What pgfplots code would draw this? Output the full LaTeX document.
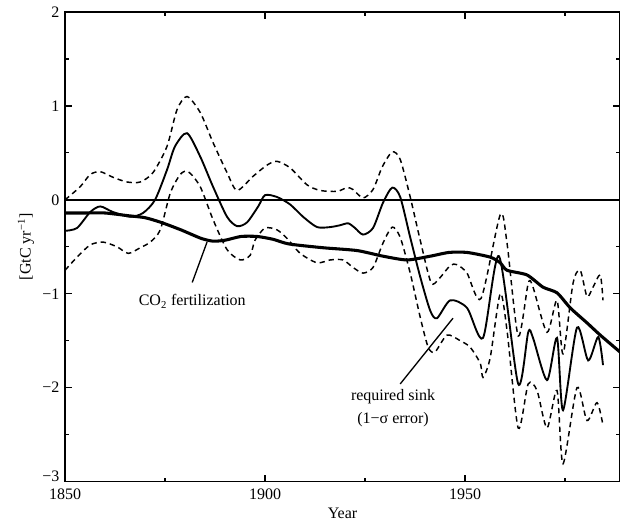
\documentclass[border=0pt]{standalone}
\usepackage{fontspec}
\setmainfont{Liberation Serif}
\usepackage{pgfplots}
\pgfplotsset{compat=1.18}

\begin{document}
\fontsize{12}{14}\selectfont
\begin{tikzpicture}
\begin{axis}[
    name=ax,
    scale only axis,
    width=416pt, height=352pt,
    xmin=1850, xmax=1988.75,
    ymin=-3, ymax=2,
    xtick={1850,1900,1950},
    xticklabels={1850,1900,1950},
    minor xtick={1875,1925,1975},
    ytick={-3,-2,-1,0,1,2},
    yticklabels={\raisebox{4pt}[\height][\depth]{−3},−2,−1,0,1,2},
    minor ytick={-2.5,-1.5,-0.5,0.5,1.5},
    xticklabel style={yshift=-1.5pt},
    axis line style={line width=1.1pt},
    major tick length=5pt, minor tick length=3pt,
    every tick/.style={black, line width=0.9pt},
    xlabel={Year},
    ylabel={[GtC yr\textsuperscript{−1}]},
    xlabel style={yshift=2pt},
    ylabel style={yshift=-2pt},
    clip=true,
]
% zero line
\addplot[black, line width=1.2pt] coordinates {(1850,0) (1988.75,0)};

% CO2 fertilization
\addplot[black, line width=2.3pt, smooth, tension=0.4] coordinates {
(1850,-0.14) (1855,-0.14) (1860,-0.14) (1866,-0.17) (1870,-0.19) (1874,-0.24)
(1879,-0.32) (1884,-0.41) (1887,-0.44) (1890,-0.43) (1894,-0.39) (1898,-0.39)
(1902,-0.42) (1906,-0.47) (1914.5,-0.51) (1923,-0.54) (1929.5,-0.60) (1935.5,-0.64)
(1941.3,-0.60) (1946,-0.56) (1950.5,-0.56) (1956.3,-0.61) (1958.8,-0.67) (1960.5,-0.75)
(1965.5,-0.80) (1969.5,-0.93) (1973,-0.99) (1976.3,-1.15) (1980.5,-1.31) (1983.8,-1.44)
(1988.75,-1.62)
};

% required sink
\addplot[black, line width=1.4pt, smooth, tension=0.45] coordinates {
(1850,-0.33) (1853,-0.30) (1856.3,-0.13) (1858.8,-0.07) (1862,-0.13) (1866.3,-0.18)
(1869.5,-0.14) (1872.5,0) (1875.5,0.32) (1877.5,0.57) (1880.5,0.71) (1883.8,0.46)
(1887,0.14) (1890.5,-0.18) (1893,-0.28) (1895.5,-0.24) (1898.3,-0.07) (1900,0.05)
(1903,0.03) (1906.3,-0.05) (1909.5,-0.18) (1913,-0.29) (1916.3,-0.29) (1918.8,-0.27)
(1920.8,-0.25) (1922.5,-0.30) (1924.5,-0.37) (1927,-0.30) (1929.5,-0.03) (1931.8,0.13)
(1933.8,0.03) (1936.3,-0.40) (1938.8,-0.82) (1941.3,-1.18) (1943,-1.26) (1946.3,-1.07)
(1950.5,-1.15) (1954.5,-1.47) (1958.5,-0.60) (1963.3,-1.96) (1965.8,-1.41) (1967,-1.47)
(1970.5,-1.92) (1973,-1.47) (1974.5,-2.24) (1978,-1.36) (1980.8,-1.71) (1983.3,-1.46)
(1984.5,-1.76)
};

% upper error bound
\addplot[black, line width=1.1pt, dash pattern=on 4pt off 3pt, smooth, tension=0.45] coordinates {
(1850,0.0) (1853.8,0.14) (1856.3,0.27) (1858.8,0.30) (1862,0.24) (1865.5,0.19)
(1868.8,0.19) (1872,0.29) (1875.5,0.57) (1878,0.96) (1880.5,1.10) (1883.8,0.93)
(1887,0.61) (1890.5,0.29) (1893,0.10) (1897,0.25) (1900.5,0.37) (1903,0.41)
(1906.3,0.34) (1910.5,0.16) (1913.8,0.10) (1918,0.09) (1920.5,0.13) (1922,0.11)
(1924.5,0.02) (1927,0.11) (1929.3,0.35) (1931.8,0.51) (1933.8,0.43) (1936.3,0.03)
(1938.8,-0.43) (1941.5,-0.88) (1943.5,-0.84) (1946.3,-0.70) (1948,-0.69) (1950.5,-0.78)
(1954,-1.05) (1958.8,-0.16) (1960.5,-0.46) (1963.3,-1.45) (1965.8,-0.89) (1967,-0.93)
(1970.5,-1.41) (1973,-1.07) (1974.5,-1.64) (1977,-0.89) (1978.8,-0.75) (1980.5,-1.03)
(1982,-0.93) (1983.8,-0.80) (1984.5,-1.07)
};

% lower error bound
\addplot[black, line width=1.1pt, dash pattern=on 4pt off 3pt, smooth, tension=0.45] coordinates {
(1850,-0.75) (1853,-0.61) (1856.3,-0.48) (1859.5,-0.45) (1863,-0.50) (1865.8,-0.57)
(1868.8,-0.51) (1871.3,-0.45) (1873.8,-0.32) (1876.3,0.07) (1878.8,0.27) (1880.8,0.30)
(1883.8,0.14) (1887,-0.21) (1890.5,-0.53) (1893.8,-0.64) (1896.3,-0.59) (1897.5,-0.43)
(1900,-0.30) (1903,-0.32) (1905.5,-0.41) (1908.8,-0.57) (1913,-0.67) (1916.3,-0.64)
(1919.5,-0.64) (1922,-0.72) (1924.5,-0.78) (1927,-0.72) (1929.5,-0.46) (1931.8,-0.29)
(1933.8,-0.40) (1936.3,-0.78) (1938.8,-1.25) (1940.8,-1.57) (1942.5,-1.62) (1945.5,-1.44)
(1948.8,-1.50) (1951.3,-1.57) (1953.8,-1.74) (1954.5,-1.89) (1956.3,-1.68) (1958.8,-1.00)
(1960.5,-1.39) (1963.3,-2.43) (1965.8,-1.96) (1968,-2.03) (1970.5,-2.43) (1973,-2.03)
(1974.5,-2.81) (1978,-2.00) (1980.5,-2.35) (1983,-2.16) (1984.5,-2.40)
};

% annotations
\draw[black, line width=1pt] (axis cs:1881.8,-0.88) -- (axis cs:1885.5,-0.45);
\node[anchor=center] at (axis cs:1881.8,-1.08) {CO\textsubscript{2} fertilization};
\draw[black, line width=1pt] (axis cs:1933.8,-1.96) -- (axis cs:1947,-1.26);
\node[anchor=center] at (axis cs:1932,-2.10) {required sink};
\node[anchor=center] at (axis cs:1932,-2.34) {(1−σ error)};
\end{axis}
\pgfresetboundingbox
\path ([shift={(-48.75pt,-32pt)}]ax.south west) rectangle ([shift={(0pt,9pt)}]ax.north east);
\end{tikzpicture}
\end{document}
